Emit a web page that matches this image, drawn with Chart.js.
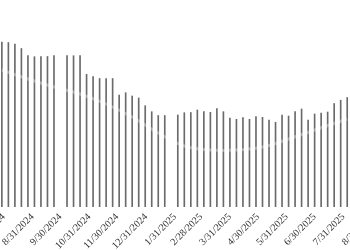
<!DOCTYPE html>
<html>
<head>
<meta charset="utf-8">
<script src="https://cdn.jsdelivr.net/npm/chart.js@4.4.1/dist/chart.umd.min.js"></script>
<style>
    html, body { margin: 0; padding: 0; background: #fff; }
</style>
</head>
<body>
<canvas id="chart" width="350" height="250"></canvas>
<script>
// weekly bars (Monday dates)
const weeks = [
    '2024-07-29', '2024-08-05', '2024-08-12', '2024-08-19', '2024-08-26', '2024-09-02',
    '2024-09-09', '2024-09-16', '2024-09-23', '2024-09-30', '2024-10-07', '2024-10-14',
    '2024-10-21', '2024-10-28', '2024-11-04', '2024-11-11', '2024-11-18', '2024-11-25',
    '2024-12-02', '2024-12-09', '2024-12-16', '2024-12-23', '2024-12-30', '2025-01-06',
    '2025-01-13', '2025-01-20', '2025-01-27', '2025-02-03', '2025-02-10', '2025-02-17',
    '2025-02-24', '2025-03-03', '2025-03-10', '2025-03-17', '2025-03-24', '2025-03-31',
    '2025-04-07', '2025-04-14', '2025-04-21', '2025-04-28', '2025-05-05', '2025-05-12',
    '2025-05-19', '2025-05-26', '2025-06-02', '2025-06-09', '2025-06-16', '2025-06-23',
    '2025-06-30', '2025-07-07', '2025-07-14', '2025-07-21', '2025-07-28', '2025-08-04'
];

const barValues = [
    165, 164.5, 163, 158.5, 151.3, 150.3,
    150.5, 150.5, 151.3, null, 151.3, 151.3,
    151.5, 132.7, 130.5, 128.5, 128.5, 128.5,
    112, 114.3, 111, 109, 101.3, 95.3,
    91.5, 91.5, null, 92, 94.3, 94.5,
    97, 95.3, 94.7, 98.5, 95.3, 88.8,
    87.7, 89.3, 87.7, 90.3, 89.7, 87,
    84.7, 92, 91, 95.3, 98, 87,
    93, 94, 95, 103.5, 106.8, 109.5
];

// faint white trend line running through the bars
const trendDates = [
    '2024-07-29', '2024-08-26', '2024-09-23', '2024-10-21', '2024-11-18', '2024-12-16',
    '2025-01-13', '2025-02-10', '2025-03-10', '2025-04-07', '2025-05-05', '2025-06-02',
    '2025-06-30', '2025-08-04'
];
const trendValues = [137, 128, 120, 113, 103, 90, 74, 61, 57, 57, 60, 68, 77, 88];

const monthEnds = [
    '2024-07-31', '2024-08-31', '2024-09-30', '2024-10-31', '2024-11-30', '2024-12-31',
    '2025-01-31', '2025-02-28', '2025-03-31', '2025-04-30', '2025-05-31', '2025-06-30',
    '2025-07-31', '2025-08-31'
];
const monthLabels = [
    '7/31/2024', '8/31/2024', '9/30/2024', '10/31/2024', '11/30/2024', '12/31/2024',
    '1/31/2025', '2/28/2025', '3/31/2025', '4/30/2025', '5/31/2025', '6/30/2025',
    '7/31/2025', '8/31/2025'
];

function dayNum(s) {
    const [y, m, d] = s.split('-').map(Number);
    return Date.UTC(y, m - 1, d) / 864e5;
}

new Chart(document.getElementById('chart'), {
    type: 'bar',
    data: {
        datasets: [{
            type: 'line',
            data: trendDates.map((d, i) => ({ x: dayNum(d), y: trendValues[i] })),
            borderColor: 'rgba(255, 255, 255, 0.35)',
            borderWidth: 3,
            pointRadius: 0,
            tension: 0.4,
            order: 0,
        }, {
            data: weeks.map((d, i) => ({ x: dayNum(d), y: barValues[i] })),
            backgroundColor: '#6a6a6a',
            barThickness: 1,
            order: 1,
        }]
    },
    options: {
        responsive: false,
        animation: false,
        devicePixelRatio: 1,
        layout: { padding: 0 },
        plugins: {
            legend: { display: false },
            tooltip: { enabled: false }
        },
        scales: {
            x: {
                type: 'linear',
                min: dayNum('2024-07-27'),
                max: dayNum('2025-08-07'),
                offset: false,
                grid: { display: false, drawTicks: false },
                border: { display: false },
                afterBuildTicks: (scale) => {
                    scale.ticks = monthEnds.map(d => ({ value: dayNum(d) }));
                },
                afterFit: (scale) => {
                    scale.paddingLeft = 0;
                    scale.paddingRight = 0;
                    scale.height = 43;
                },
                ticks: {
                    autoSkip: false,
                    minRotation: 45,
                    maxRotation: 45,
                    padding: 4,
                    color: '#333',
                    font: { family: 'Liberation Serif', size: 10 },
                    callback: (value, index) => monthLabels[index]
                }
            },
            y: {
                display: false,
                min: 0,
                max: 207
            }
        }
    }
});
</script>
</body>
</html>
